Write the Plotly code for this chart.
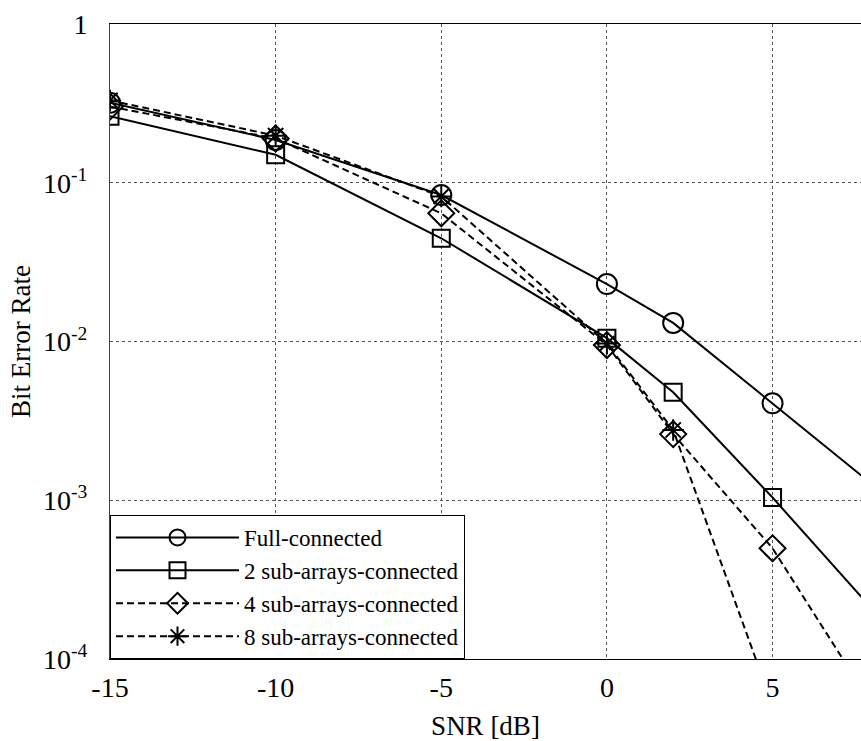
import plotly.graph_objects as go

# SNR sweep (dB) and measured bit error rates for each hybrid-precoding architecture
snr_db = [-15, -10, -5, 0, 2, 5, 10]
snr_db_8 = [-15, -10, -5, 0, 2, 5]

ber_full = [0.319, 0.186, 0.0837, 0.0230, 0.0131, 0.00408, 5.8e-4]
ber_sub2 = [0.262, 0.150, 0.0447, 0.0105, 0.00479, 0.00104, 7.06e-5]
ber_sub4 = [0.302, 0.190, 0.0642, 0.0095, 0.00261, 4.98e-4, 1.13e-5]
ber_sub8 = [0.330, 0.198, 0.0820, 0.0097, 0.00277, 5.1e-5]

series_names = [
    "Full-connected",
    "2 sub-arrays-connected",
    "4 sub-arrays-connected",
    "8 sub-arrays-connected",
]

y_tick_vals = [1e-4, 1e-3, 1e-2, 1e-1, 1]
y_tick_text = ["10<sup>-4</sup>", "10<sup>-3</sup>", "10<sup>-2</sup>", "10<sup>-1</sup>", "1"]
x_tick_vals = [-15, -10, -5, 0, 5]
x_tick_text = ["-15", "-10", "-5", "0", "5"]

FONT = "Liberation Serif, Times New Roman, serif"

fig = go.Figure()

styles = [
    (snr_db, ber_full, "circle-open", 20, "solid"),
    (snr_db, ber_sub2, "square-open", 17, "solid"),
    (snr_db, ber_sub4, "diamond-open", 20, "7px,4px"),
    (snr_db_8, ber_sub8, "asterisk-open", 18, "7px,4px"),
]

for name, (xs, ys, sym, size, dash) in zip(series_names, styles):
    fig.add_trace(go.Scatter(
        x=xs, y=ys, name=name, mode="lines+markers",
        line=dict(color="black", width=2, dash=dash),
        marker=dict(symbol=sym, size=size, color="black",
                    line=dict(color="black", width=2)),
    ))

fig.update_layout(
    width=861, height=741,
    margin=dict(l=110, r=0, t=24, b=82),
    paper_bgcolor="white", plot_bgcolor="white",
    font=dict(family=FONT, size=27, color="black"),
    showlegend=True,
    legend=dict(
        x=0, y=0, xanchor="left", yanchor="bottom",
        bgcolor="white", bordercolor="black", borderwidth=1,
        font=dict(family=FONT, size=23, color="black"),
        itemwidth=123, tracegroupgap=0,
    ),
    xaxis=dict(
        range=[-15, 7.67], tickvals=x_tick_vals, ticktext=x_tick_text,
        tickfont=dict(family=FONT, size=28),
        showline=True, linecolor="black", linewidth=1, mirror=True,
        showgrid=True, gridcolor="#555", griddash="dot", gridwidth=1,
        zeroline=False, ticks="", ticklabelstandoff=3,
        title=dict(text="SNR [dB]", font=dict(family=FONT, size=27), standoff=14),
    ),
    yaxis=dict(
        type="log", range=[-4, 0], tickvals=y_tick_vals, ticktext=y_tick_text,
        tickfont=dict(family=FONT, size=28),
        showline=True, linecolor="#444", linewidth=1, mirror=False,
        showgrid=True, gridcolor="#555", griddash="dot", gridwidth=1,
        zeroline=False, ticks="", ticklabelstandoff=16,
        title=dict(text="Bit Error Rate", font=dict(family=FONT, size=27), standoff=4),
    ),
)

fig.write_html("out.html")
